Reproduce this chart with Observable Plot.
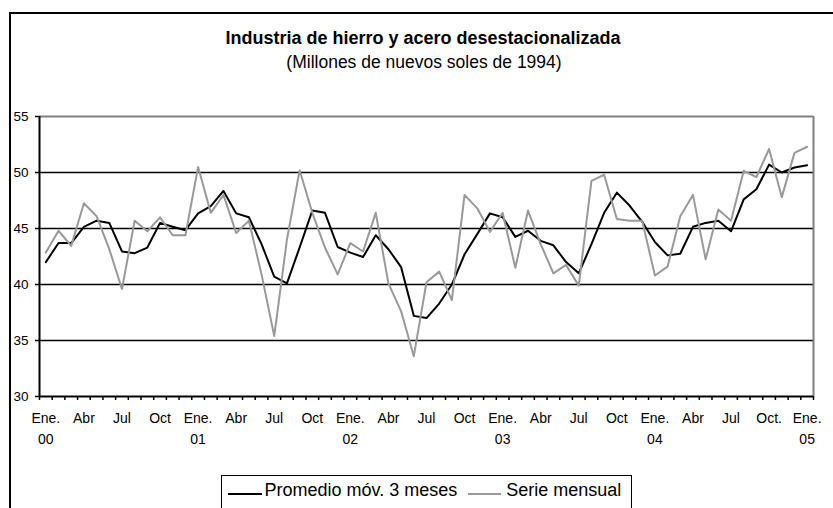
<!DOCTYPE html>
<html>
<head>
<meta charset="utf-8">
<script src="https://cdn.jsdelivr.net/npm/d3@7"></script>
<script src="https://cdn.jsdelivr.net/npm/@observablehq/plot@0.6"></script>
<style>
  html, body { margin: 0; padding: 0; background: white; }
  #wrap { position: relative; width: 833px; height: 508px; overflow: hidden; background: white;
          font-family: "Liberation Sans", Arial, sans-serif; }
  #frame { position: absolute; left: 9px; top: 12px; width: 900px; height: 600px;
           border: 2px solid black; box-sizing: border-box; }
  #chart { position: absolute; left: 0; top: 0; }
  #title { position: absolute; left: 0; width: 846px; top: 28px; text-align: center;
           font-weight: bold; font-size: 18px; line-height: 21px; }
  #subtitle { position: absolute; left: 0; width: 848px; top: 52px; text-align: center;
              font-size: 17.5px; line-height: 20px; }
  #legend { position: absolute; left: 221px; top: 475px; width: 411px; height: 45px;
            border: 1.5px solid black; box-sizing: border-box; background: white;
            display: flex; align-items: flex-start; padding-top: 4px; padding-left: 5.5px;
            font-size: 18px; line-height: 21px; white-space: nowrap; }
  .sw { display: inline-block; height: 0; position: relative; top: 13px; }
  .item { display: flex; align-items: flex-start; }
</style>
</head>
<body>
<div id="wrap">
  <div id="frame"></div>
  <div id="chart"></div>
  <div id="title">Industria de hierro y acero desestacionalizada</div>
  <div id="subtitle">(Millones de nuevos soles de 1994)</div>
  <div id="legend"></div>
</div>
<script>
// Serie mensual (Ene. 2000 – Ene. 2005)
const serieMensual = [
  42.85, 44.8, 43.45, 47.25, 46.1, 43.15, 39.6, 45.7, 44.75, 46.0, 44.4, 44.4,
  50.5, 46.4, 48.0, 44.6, 45.7, 40.9, 35.4, 44.0, 50.2, 46.4, 43.3, 40.9,
  43.7, 42.95, 46.4, 40.1, 37.6, 33.6, 40.2, 41.15, 38.6, 48.0, 46.8, 44.7,
  46.4, 41.5, 46.6, 43.6, 41.0, 41.75, 39.9, 49.25, 49.8, 45.85, 45.7, 45.7,
  40.8, 41.6, 46.1, 48.0, 42.25, 46.7, 45.7, 50.15, 49.6, 52.1, 47.8, 51.75,
  52.3
];
// Promedio móvil 3 meses
const promedioMovil = [
  42.0, 43.7, 43.7, 45.15, 45.7, 45.5, 42.95, 42.8, 43.3, 45.5, 45.15, 44.85,
  46.35, 47.0, 48.35, 46.35, 46.0, 43.6, 40.7, 40.1, 43.3, 46.6, 46.4, 43.35,
  42.85, 42.45, 44.4, 43.15, 41.55, 37.2, 37.0, 38.3, 40.0, 42.7, 44.5, 46.35,
  46.0, 44.25, 44.8, 43.9, 43.5, 42.0, 41.0, 43.6, 46.4, 48.2, 47.05, 45.6,
  43.8, 42.6, 42.75, 45.15, 45.5, 45.7, 44.75, 47.6, 48.5, 50.7, 50.0, 50.45,
  50.65
];
// Etiquetas del eje X (cada 3 meses)
const tickLabels = [
  "Ene.\n00", "Abr", "Jul", "Oct",
  "Ene.\n01", "Abr", "Jul", "Oct",
  "Ene.\n02", "Abr", "Jul", "Oct",
  "Ene.\n03", "Abr", "Jul", "Oct",
  "Ene.\n04", "Abr", "Jul", "Oct.",
  "Ene.\n05"
];
const labelStep = 3;
const yTicks = [30, 35, 40, 45, 50, 55];
const yGrid = [35, 40, 45, 50];
const seriesNames = ["Promedio móv. 3 meses", "Serie mensual"];
const seriesColors = ["#000000", "#999999"];

const n = serieMensual.length;
const serie = serieMensual.map((v, i) => ({i, v}));
const prom = promedioMovil.map((v, i) => ({i, v}));
const labels = tickLabels.map((t, k) => ({i: k * labelStep, t}));
const boundaries = d3.range(n + 1).map(k => k - 0.5);

const plot = Plot.plot({
  width: 833,
  height: 508,
  marginLeft: 39,
  marginRight: 20,
  marginTop: 116,
  marginBottom: 112,
  style: {fontFamily: "Liberation Sans, Arial, sans-serif", fontSize: "13px", background: "transparent", color: "black", overflow: "visible"},
  x: {type: "linear", domain: [-0.5, n - 0.5], axis: null},
  y: {domain: [30, 55], axis: null},
  marks: [
    Plot.ruleY(yGrid, {stroke: "black", strokeWidth: 1.3}),
    Plot.ruleY([55], {stroke: "#808080", strokeWidth: 2}),
    Plot.ruleX([n - 0.5], {stroke: "#808080", strokeWidth: 2}),
    Plot.line(prom, {x: "i", y: "v", stroke: seriesColors[0], strokeWidth: 2}),
    Plot.line(serie, {x: "i", y: "v", stroke: seriesColors[1], strokeWidth: 2}),
    Plot.ruleX([-0.5], {stroke: "black", strokeWidth: 2}),
    Plot.ruleY([30], {stroke: "black", strokeWidth: 2}),
    Plot.axisY(yTicks, {tickSize: 4, tickPadding: 7, label: null, fontSize: 13.5, strokeWidth: 1.5}),
    Plot.axisX(boundaries, {tickSize: 4, tickFormat: () => "", label: null, strokeWidth: 1.5}),
    Plot.text(labels, {x: "i", y: () => 30, text: "t", dy: 12, lineAnchor: "top", lineHeight: 1.48, fontSize: 14})
  ]
});
document.getElementById("chart").appendChild(plot);

const legend = document.getElementById("legend");
const swatchWidths = [34, 33];
const swatchGaps = [3, 5];
seriesNames.forEach((name, k) => {
  const item = document.createElement("span");
  item.className = "item";
  item.style.marginRight = k === 0 ? "11px" : "0";
  const sw = document.createElement("span");
  sw.className = "sw";
  sw.style.width = swatchWidths[k] + "px";
  sw.style.marginRight = swatchGaps[k] + "px";
  sw.style.borderTop = "2px solid " + seriesColors[k];
  item.appendChild(sw);
  const t = document.createElement("span");
  t.textContent = name;
  item.appendChild(t);
  legend.appendChild(item);
});
</script>
</body>
</html>
